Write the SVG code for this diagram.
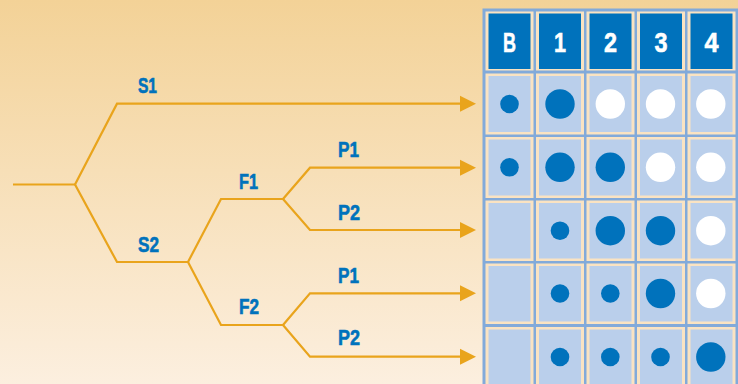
<svg xmlns="http://www.w3.org/2000/svg" width="738" height="384" viewBox="0 0 738 384">
<defs>
<linearGradient id="bg" x1="0" y1="0" x2="0" y2="1">
<stop offset="0" stop-color="#F3D297"/>
<stop offset="1" stop-color="#FCEFDF"/>
</linearGradient>
<marker id="arr" markerUnits="userSpaceOnUse" markerWidth="17" markerHeight="17" refX="0" refY="8" orient="auto" viewBox="0 0 17 16">
<path d="M0,0 L16,8 L0,16 Z" fill="#E9A41C"/>
</marker>
<style>
.ln{fill:none;stroke:#E9A41C;stroke-width:2.2;stroke-linejoin:miter}
.lbl{font-family:"Liberation Sans",Arial,sans-serif;font-weight:bold;font-size:22px;fill:#0072BC;stroke:#0072BC;stroke-width:0.6}
.hd{font-family:"Liberation Sans",Arial,sans-serif;font-weight:bold;font-size:28px;fill:#FFFFFF;stroke:#FFFFFF;stroke-width:0.6;text-anchor:middle}
.cream{fill:#FAE3C2}
.hdc{fill:#0072BC}
.lc{fill:#BACFEB}
.sm{fill:#0072BC}
.lg{fill:#0072BC}
.wh{fill:#FFFFFF}
</style>
</defs>
<rect x="0" y="0" width="738" height="384" fill="url(#bg)"/>

<g id="connectors">
<path class="ln" d="M13,184.5 H75"/>
<path class="ln" d="M75,184.5 L117,103.7 H460" marker-end="url(#arr)"/>
<path class="ln" d="M75,184.5 L117,262 H188"/>
<path class="ln" d="M188,262 L221,199 H283"/>
<path class="ln" d="M188,262 L221,325 H283"/>
<path class="ln" d="M283,199 L310,167.7 H460" marker-end="url(#arr)"/>
<path class="ln" d="M283,199 L310,230 H460" marker-end="url(#arr)"/>
<path class="ln" d="M283,325 L310,293.3 H460" marker-end="url(#arr)"/>
<path class="ln" d="M283,325 L310,356.7 H460" marker-end="url(#arr)"/>
</g>

<g id="label-S1"><text class="lbl" x="138" y="93" textLength="19" lengthAdjust="spacingAndGlyphs">S1</text></g>
<g id="label-S2"><text class="lbl" x="138" y="252" textLength="21" lengthAdjust="spacingAndGlyphs">S2</text></g>
<g id="label-F1"><text class="lbl" x="239" y="189" textLength="19" lengthAdjust="spacingAndGlyphs">F1</text></g>
<g id="label-F2"><text class="lbl" x="239" y="314" textLength="20" lengthAdjust="spacingAndGlyphs">F2</text></g>
<g id="label-P1a"><text class="lbl" x="338" y="157" textLength="21" lengthAdjust="spacingAndGlyphs">P1</text></g>
<g id="label-P2a"><text class="lbl" x="338" y="220" textLength="22" lengthAdjust="spacingAndGlyphs">P2</text></g>
<g id="label-P1b"><text class="lbl" x="338" y="283" textLength="21" lengthAdjust="spacingAndGlyphs">P1</text></g>
<g id="label-P2b"><text class="lbl" x="338" y="345" textLength="22" lengthAdjust="spacingAndGlyphs">P2</text></g>

<g id="table">
<rect x="482.5" y="8.5" width="256" height="380" fill="#82AADA"/>
<g id="header">
<rect class="cream" x="485.5" y="11.5" width="48" height="59"/>
<rect class="cream" x="536" y="11.5" width="48" height="59"/>
<rect class="cream" x="586.5" y="11.5" width="48" height="59"/>
<rect class="cream" x="637" y="11.5" width="48" height="59"/>
<rect class="cream" x="687.5" y="11.5" width="48" height="59"/>
<rect class="hdc" x="488.5" y="13.5" width="42" height="55.5"/>
<rect class="hdc" x="539" y="13.5" width="42" height="55.5"/>
<rect class="hdc" x="589.5" y="13.5" width="42" height="55.5"/>
<rect class="hdc" x="640" y="13.5" width="42" height="55.5"/>
<rect class="hdc" x="690.5" y="13.5" width="42" height="55.5"/>
<text class="hd" x="509.5" y="52.3" textLength="13" lengthAdjust="spacingAndGlyphs">B</text>
<text class="hd" x="560" y="52.3" textLength="12" lengthAdjust="spacingAndGlyphs">1</text>
<text class="hd" x="610.5" y="52.3" textLength="13" lengthAdjust="spacingAndGlyphs">2</text>
<text class="hd" x="661" y="52.3" textLength="13" lengthAdjust="spacingAndGlyphs">3</text>
<text class="hd" x="711.5" y="52.3" textLength="14" lengthAdjust="spacingAndGlyphs">4</text>
</g>
<g id="cells">
<rect class="cream" x="485.5" y="73.5" width="48" height="61"/>
<rect class="cream" x="536" y="73.5" width="48" height="61"/>
<rect class="cream" x="586.5" y="73.5" width="48" height="61"/>
<rect class="cream" x="637" y="73.5" width="48" height="61"/>
<rect class="cream" x="687.5" y="73.5" width="48" height="61"/>
<rect class="cream" x="485.5" y="137" width="48" height="61"/>
<rect class="cream" x="536" y="137" width="48" height="61"/>
<rect class="cream" x="586.5" y="137" width="48" height="61"/>
<rect class="cream" x="637" y="137" width="48" height="61"/>
<rect class="cream" x="687.5" y="137" width="48" height="61"/>
<rect class="cream" x="485.5" y="200.5" width="48" height="60.5"/>
<rect class="cream" x="536" y="200.5" width="48" height="60.5"/>
<rect class="cream" x="586.5" y="200.5" width="48" height="60.5"/>
<rect class="cream" x="637" y="200.5" width="48" height="60.5"/>
<rect class="cream" x="687.5" y="200.5" width="48" height="60.5"/>
<rect class="cream" x="485.5" y="263.5" width="48" height="60.5"/>
<rect class="cream" x="536" y="263.5" width="48" height="60.5"/>
<rect class="cream" x="586.5" y="263.5" width="48" height="60.5"/>
<rect class="cream" x="637" y="263.5" width="48" height="60.5"/>
<rect class="cream" x="687.5" y="263.5" width="48" height="60.5"/>
<rect class="cream" x="485.5" y="327" width="48" height="62"/>
<rect class="cream" x="536" y="327" width="48" height="62"/>
<rect class="cream" x="586.5" y="327" width="48" height="62"/>
<rect class="cream" x="637" y="327" width="48" height="62"/>
<rect class="cream" x="687.5" y="327" width="48" height="62"/>

<rect class="lc" x="488.5" y="76" width="42" height="56"/>
<rect class="lc" x="539" y="76" width="42" height="56"/>
<rect class="lc" x="589.5" y="76" width="42" height="56"/>
<rect class="lc" x="640" y="76" width="42" height="56"/>
<rect class="lc" x="690.5" y="76" width="42" height="56"/>
<rect class="lc" x="488.5" y="139.5" width="42" height="56"/>
<rect class="lc" x="539" y="139.5" width="42" height="56"/>
<rect class="lc" x="589.5" y="139.5" width="42" height="56"/>
<rect class="lc" x="640" y="139.5" width="42" height="56"/>
<rect class="lc" x="690.5" y="139.5" width="42" height="56"/>
<rect class="lc" x="488.5" y="203" width="42" height="55.5"/>
<rect class="lc" x="539" y="203" width="42" height="55.5"/>
<rect class="lc" x="589.5" y="203" width="42" height="55.5"/>
<rect class="lc" x="640" y="203" width="42" height="55.5"/>
<rect class="lc" x="690.5" y="203" width="42" height="55.5"/>
<rect class="lc" x="488.5" y="266" width="42" height="55.5"/>
<rect class="lc" x="539" y="266" width="42" height="55.5"/>
<rect class="lc" x="589.5" y="266" width="42" height="55.5"/>
<rect class="lc" x="640" y="266" width="42" height="55.5"/>
<rect class="lc" x="690.5" y="266" width="42" height="55.5"/>
<rect class="lc" x="488.5" y="329.5" width="42" height="60"/>
<rect class="lc" x="539" y="329.5" width="42" height="60"/>
<rect class="lc" x="589.5" y="329.5" width="42" height="60"/>
<rect class="lc" x="640" y="329.5" width="42" height="60"/>
<rect class="lc" x="690.5" y="329.5" width="42" height="60"/>
</g>
<g id="dots">
<circle class="sm" cx="509.5" cy="104" r="9.3"/>
<circle class="lg" cx="560" cy="104" r="14.7"/>
<circle class="wh" cx="610.3" cy="104" r="14.7"/>
<circle class="wh" cx="660.5" cy="104" r="14.7"/>
<circle class="wh" cx="710.8" cy="104" r="14.7"/>
<circle class="sm" cx="509.5" cy="167.3" r="9.3"/>
<circle class="lg" cx="560" cy="167.3" r="14.7"/>
<circle class="lg" cx="610.3" cy="167.3" r="14.7"/>
<circle class="wh" cx="660.5" cy="167.3" r="14.7"/>
<circle class="wh" cx="710.8" cy="167.3" r="14.7"/>
<circle class="sm" cx="560" cy="230.7" r="9.3"/>
<circle class="lg" cx="610.3" cy="230.7" r="14.7"/>
<circle class="lg" cx="660.5" cy="230.7" r="14.7"/>
<circle class="wh" cx="710.8" cy="230.7" r="14.7"/>
<circle class="sm" cx="560" cy="293.5" r="9.3"/>
<circle class="sm" cx="610.3" cy="293.5" r="9.3"/>
<circle class="lg" cx="660.5" cy="293.5" r="14.7"/>
<circle class="wh" cx="710.8" cy="293.5" r="14.7"/>
<circle class="sm" cx="560" cy="357" r="9.3"/>
<circle class="sm" cx="610.3" cy="357" r="9.3"/>
<circle class="sm" cx="660.5" cy="357" r="9.3"/>
<circle class="lg" cx="710.8" cy="357" r="14.7"/>
</g>
</g>
</svg>
